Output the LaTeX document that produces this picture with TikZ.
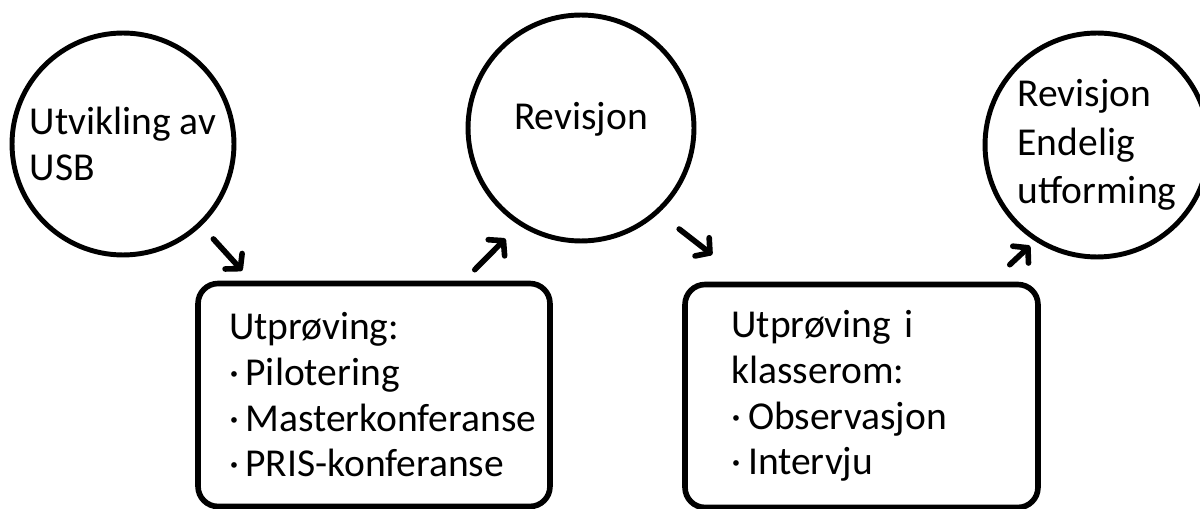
\documentclass[tikz,border=0pt]{standalone}
\usepackage{fontspec}
\setmainfont{Carlito}
\usetikzlibrary{arrows.meta,calc}

\tikzset{
	fase/.style={draw, circle, line width=2.8pt, inner sep=0pt, align=left,
		font=\fontsize{22.5}{26.5}\selectfont},
	proveboks/.style={draw, rectangle, rounded corners=0.4cm, line width=3.2pt,
		align=left, minimum height=4.46cm, inner ysep=0pt,
		font=\fontsize{22.5}{26}\selectfont},
	pil/.style={line width=3.2pt, line cap=round,
		-{Straight Barb[length=2mm,width=4.6mm,round]}}
}

\begin{document}
\begin{tikzpicture}[x=0.02cm, y=-0.02cm]
	\useasboundingbox (0,0) rectangle (1200,509);
	% sirklene
	\node[fase, minimum size=4.44cm] (usb) at (123,144) {Utvikling av\\USB};
	\node[fase, minimum size=4.52cm, text depth=0.5cm] (rev) at (581,128) {Revisjon};
	\node[fase, minimum size=4.48cm, font=\fontsize{22.5}{27.5}\selectfont] (slutt) at (1097,145)
		{Revisjon\\Endelig\\utforming};
	% boksene
	\node[proveboks, text width=5.8cm, inner xsep=0.62cm] (prove1) at (374,395)
		{Utprøving:\\·\,Pilotering\\·\,Masterkonferanse\\·\,PRIS-konferanse};
	\node[proveboks, text width=5.2cm, inner xsep=0.93cm] (prove2) at (861.5,396)
		{Utprøving i\\klasserom:\\·\,Observasjon\\·\,Intervju};
	% pilene
	\draw[pil] ([shift={(13,12)}]usb.-47) -- ([shift={(47,-10)}]prove1.north west);
	\draw[pil] ([shift={(-78,-11)}]prove1.north east) -- ([shift={(-11,15)}]rev.236);
	\draw[pil] ([shift={(18,18)}]rev.-46) -- ([shift={(30,-27)}]prove2.north west);
	\draw[pil] ([shift={(-31,-17)}]prove2.north east) -- ([shift={(-3,6)}]slutt.236);
\end{tikzpicture}
\end{document}
